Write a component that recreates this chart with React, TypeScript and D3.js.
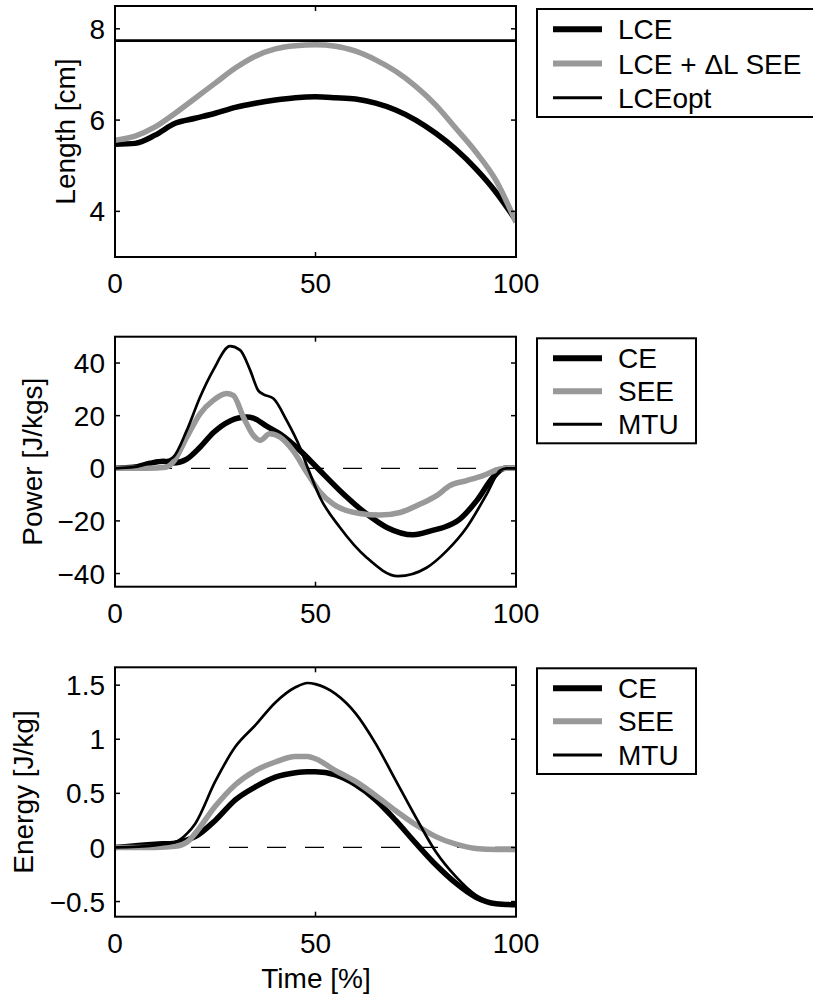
import React from "react";
import * as d3 from "d3";

// ---------- Data ----------
const xTicks = [0, 50, 100];

// Panel 1: Length [cm]
const lenT = [0, 5, 10, 15, 20, 25, 30, 35, 40, 45, 50, 55, 60, 65, 70, 75, 80, 85, 90, 95, 100];
const lenLCE = [5.47, 5.49, 5.67, 5.93, 6.04, 6.15, 6.28, 6.37, 6.44, 6.49, 6.51, 6.49, 6.46, 6.37, 6.22, 6.0, 5.71, 5.36, 4.93, 4.42, 3.8];
const lenLCEdSEE = [5.56, 5.65, 5.85, 6.15, 6.48, 6.81, 7.14, 7.4, 7.56, 7.63, 7.65, 7.62, 7.51, 7.32, 7.07, 6.74, 6.33, 5.82, 5.3, 4.68, 3.76];
const lceOpt = 7.74;
const lenTicks = [4, 6, 8];

// Panel 2: Power [J/kgs]
const powCET = [0, 4.6, 8.7, 12, 14.5, 17.9, 21.2, 24.5, 28.7, 32.8, 34.5, 37.8, 41.2, 46.1, 50.3, 56.1, 62.8, 67.8, 74.4, 79.4, 81.9, 86, 90.2, 94.3, 97.2, 100];
const powCE = [0, 0.4, 1.9, 2.7, 2.0, 3.5, 8, 13.5, 18, 19.5, 19.1, 16, 13, 6.8, 0.4, -8.5, -17.4, -22.5, -25.3, -23.5, -22.5, -19.3, -12.3, -3.4, 0, 0];
const powSEET = [0, 8, 12.7, 14.5, 17.9, 21.2, 24.5, 27.8, 29.5, 32, 34.5, 36.2, 38.6, 41.2, 44.4, 47.8, 51.1, 54.4, 61, 66, 71.1, 76.1, 80.2, 83.5, 87.7, 91.8, 96, 97.6, 100];
const powSEE = [0, 0, 0.4, 2.3, 11.8, 20.7, 25.8, 28.4, 27.7, 19.5, 12.5, 10.6, 13.1, 11.8, 6.7, -1.5, -9, -13.6, -17.2, -17.8, -16.8, -13.6, -10.4, -6.6, -4.7, -2.8, -0.3, 0, 0];
const powMTUT = [0, 5, 11.2, 12.7, 14.5, 17.9, 21.2, 24.5, 28.7, 31.2, 33.7, 35.7, 37, 39.5, 42.8, 46.1, 48, 51.1, 56.1, 62.8, 70.6, 77.7, 82.7, 87.7, 92.7, 96, 97.6, 100];
const powMTU = [0, 0.5, 2.9, 3.0, 4.2, 14.4, 27, 37.3, 46.4, 44.9, 37.3, 29.6, 28.1, 26.5, 18.2, 8, 0.4, -11, -22.5, -34, -41, -37.8, -31.4, -22.5, -9.8, -0.9, 0, 0];
const powTicks = [-40, -20, 0, 20, 40];

// Panel 3: Energy [J/kg]
const enT = [0, 10, 15, 18, 20, 25, 30, 35, 40, 45, 48, 50, 55, 60, 65, 70, 75, 80, 85, 90, 95, 100];
const enCE = [0, 0.03, 0.04, 0.07, 0.1, 0.25, 0.44, 0.56, 0.65, 0.69, 0.70, 0.70, 0.67, 0.58, 0.44, 0.25, 0.04, -0.16, -0.33, -0.46, -0.52, -0.53];
const enSEE = [0, 0, 0.01, 0.05, 0.13, 0.38, 0.58, 0.71, 0.79, 0.84, 0.84, 0.82, 0.71, 0.61, 0.48, 0.34, 0.21, 0.1, 0.03, -0.01, -0.02, -0.02];
const enMTU = [0, 0.02, 0.05, 0.13, 0.22, 0.61, 0.93, 1.13, 1.34, 1.48, 1.52, 1.51, 1.42, 1.24, 0.96, 0.62, 0.28, -0.04, -0.27, -0.44, -0.52, -0.53];
const enTicks = [-0.5, 0, 0.5, 1, 1.5];

// ---------- Styles ----------
const FONT = "'Liberation Sans', Arial, Helvetica, sans-serif";
const FS = 28;
const GRAY = "#999999";
const THICK = 5.5;
const THIN = 2.7;
const X0 = 115;
const X1 = 516;

type Series = { t: number[]; v: number[]; color: string; width: number };
type LegendItem = { label: string; color: string; width: number };

function fmt(v: number) {
  const s = String(v);
  return s.startsWith("-") ? "\u2212" + s.slice(1) : s;
}

function Panel(props: {
  top: number;
  bottom: number;
  domain: [number, number];
  yTicks: number[];
  ylabel: string;
  ylabelX: number;
  series: Series[];
  hline?: { y: number; dashed: boolean; width: number };
  hlineTop?: boolean;
  legend: LegendItem[];
  legendBox: { x0: number; x1: number; y0: number; y1: number };
  legendRows: number[];
  clipId: string;
}) {
  const { top, bottom, domain, yTicks, series, hline, legend, legendBox, legendRows, clipId } = props;
  const x = d3.scaleLinear().domain([0, 100]).range([X0, X1]);
  const y = d3.scaleLinear().domain(domain).range([bottom, top]);
  const line = d3
    .line<[number, number]>()
    .x((d) => x(d[0]))
    .y((d) => y(d[1]))
    .curve(d3.curveMonotoneX);
  const hl = hline ? (
    <line
      x1={X0}
      x2={X1}
      y1={y(hline.y)}
      y2={y(hline.y)}
      stroke="#000"
      strokeWidth={hline.width}
      strokeDasharray={hline.dashed ? "19 19" : undefined}
    />
  ) : null;
  return (
    <g>
      <defs>
        <clipPath id={clipId}>
          <rect x={X0} y={top} width={X1 - X0} height={bottom - top} />
        </clipPath>
      </defs>
      <g clipPath={`url(#${clipId})`}>
        {!props.hlineTop && hl}
        {series.map((s, i) => (
          <path
            key={i}
            d={line(s.t.map((t, j) => [t, s.v[j]] as [number, number])) || ""}
            fill="none"
            stroke={s.color}
            strokeWidth={s.width}
            strokeLinejoin="round"
          />
        ))}
        {props.hlineTop && hl}
      </g>
      {/* axes box */}
      <rect x={X0} y={top} width={X1 - X0} height={bottom - top} fill="none" stroke="#000" strokeWidth={2} />
      {/* y ticks */}
      {yTicks.map((t) => (
        <g key={"y" + t}>
          <line x1={X0} x2={X0 + 5} y1={y(t)} y2={y(t)} stroke="#000" strokeWidth={1.5} />
          <line x1={X1} x2={X1 - 5} y1={y(t)} y2={y(t)} stroke="#000" strokeWidth={1.5} />
          <text x={105} y={y(t)} dy="0.36em" textAnchor="end" fontFamily={FONT} fontSize={FS}>
            {fmt(t)}
          </text>
        </g>
      ))}
      {/* x ticks */}
      {xTicks.map((t) => (
        <g key={"x" + t}>
          <line x1={x(t)} x2={x(t)} y1={bottom} y2={bottom - 5} stroke="#000" strokeWidth={1.5} />
          <line x1={x(t)} x2={x(t)} y1={top} y2={top + 5} stroke="#000" strokeWidth={1.5} />
          <text x={x(t)} y={bottom + 36} textAnchor="middle" fontFamily={FONT} fontSize={FS}>
            {fmt(t)}
          </text>
        </g>
      ))}
      {/* y label */}
      <text
        transform={`translate(${props.ylabelX},${(top + bottom) / 2}) rotate(-90)`}
        textAnchor="middle"
        fontFamily={FONT}
        fontSize={FS}
      >
        {props.ylabel}
      </text>
      {/* legend */}
      <rect
        x={legendBox.x0}
        y={legendBox.y0}
        width={legendBox.x1 - legendBox.x0}
        height={legendBox.y1 - legendBox.y0}
        fill="#fff"
        stroke="#000"
        strokeWidth={2}
      />
      {legend.map((it, i) => (
        <g key={"l" + i}>
          <line x1={553} x2={602} y1={legendRows[i]} y2={legendRows[i]} stroke={it.color} strokeWidth={it.width} />
          <text x={618} y={legendRows[i]} dy="0.36em" fontFamily={FONT} fontSize={FS}>
            {it.label}
          </text>
        </g>
      ))}
    </g>
  );
}

export default function App() {
  return (
    <svg
      width={813}
      height={996}
      style={{ position: "absolute", left: 0, top: 0, background: "#fff" }}
      xmlns="http://www.w3.org/2000/svg"
    >
      <rect x={0} y={0} width={813} height={996} fill="#fff" />
      <Panel
        clipId="c1"
        top={6}
        bottom={257}
        domain={[3, 8.5]}
        yTicks={lenTicks}
        ylabel="Length [cm]"
        ylabelX={75}
        series={[
          { t: lenT, v: lenLCE, color: "#000", width: THICK },
          { t: lenT, v: lenLCEdSEE, color: GRAY, width: THICK },
        ]}
        hline={{ y: lceOpt, dashed: false, width: THIN }}
        hlineTop={true}
        legend={[
          { label: "LCE", color: "#000", width: 6 },
          { label: "LCE + \u0394L SEE", color: GRAY, width: 6 },
          { label: "LCEopt", color: "#000", width: 3 },
        ]}
        legendBox={{ x0: 537, x1: 830, y0: 9, y1: 117 }}
        legendRows={[29.3, 63.5, 97.8]}
      />
      <Panel
        clipId="c2"
        top={336.7}
        bottom={586.7}
        domain={[-45, 50]}
        yTicks={powTicks}
        ylabel="Power [J/kgs]"
        ylabelX={41.7}
        series={[
          { t: powCET, v: powCE, color: "#000", width: THICK },
          { t: powSEET, v: powSEE, color: GRAY, width: THICK },
          { t: powMTUT, v: powMTU, color: "#000", width: THIN },
        ]}
        hline={{ y: 0, dashed: true, width: 1.3 }}
        legend={[
          { label: "CE", color: "#000", width: 6 },
          { label: "SEE", color: GRAY, width: 6 },
          { label: "MTU", color: "#000", width: 3 },
        ]}
        legendBox={{ x0: 537, x1: 696, y0: 338.3, y1: 443.3 }}
        legendRows={[358.3, 391.3, 424.3]}
      />
      <Panel
        clipId="c3"
        top={667.3}
        bottom={916.7}
        domain={[-0.64, 1.665]}
        yTicks={enTicks}
        ylabel="Energy [J/kg]"
        ylabelX={33.3}
        series={[
          { t: enT, v: enCE, color: "#000", width: THICK },
          { t: enT, v: enSEE, color: GRAY, width: THICK },
          { t: enT, v: enMTU, color: "#000", width: THIN },
        ]}
        hline={{ y: 0, dashed: true, width: 1.3 }}
        legend={[
          { label: "CE", color: "#000", width: 6 },
          { label: "SEE", color: GRAY, width: 6 },
          { label: "MTU", color: "#000", width: 3 },
        ]}
        legendBox={{ x0: 537, x1: 696, y0: 668.3, y1: 774 }}
        legendRows={[688.3, 721.3, 755]}
      />
      <text x={316} y={988} textAnchor="middle" fontFamily={FONT} fontSize={FS}>
        Time [%]
      </text>
    </svg>
  );
}
